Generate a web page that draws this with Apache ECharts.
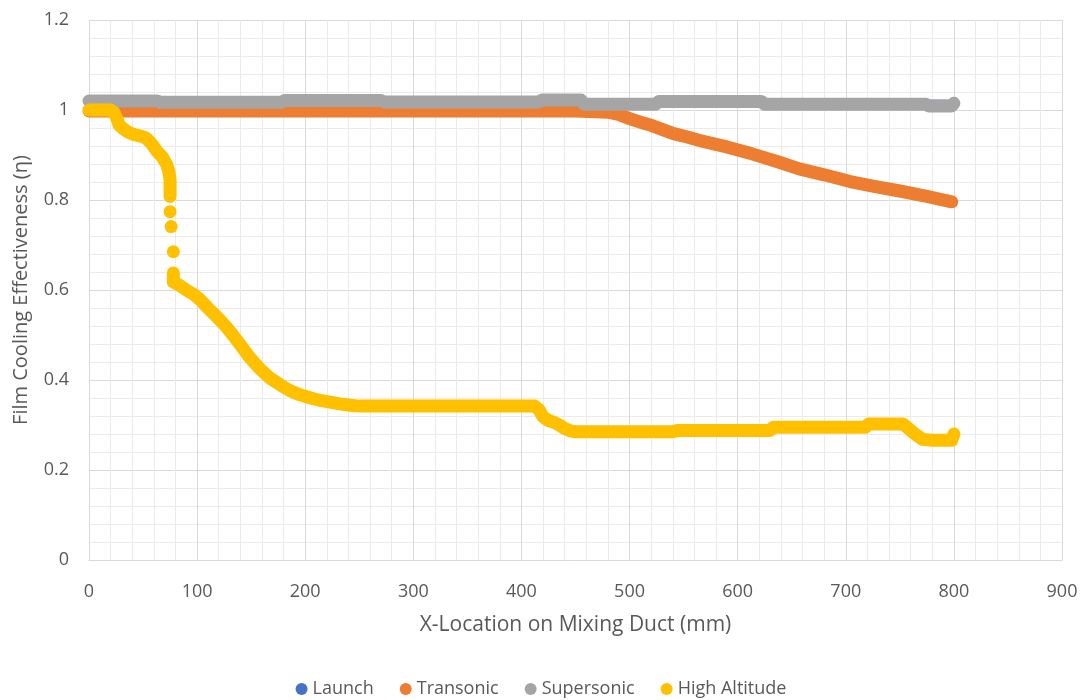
<!DOCTYPE html>
<html>
<head>
<meta charset="utf-8">
<script src="https://cdn.jsdelivr.net/npm/echarts@6/dist/echarts.min.js"></script>
<style>
html,body{margin:0;padding:0;background:#fff;}
#chart{width:1082px;height:700px;}
</style>
</head>
<body>
<div id="chart"></div>
<script>
// ---- data ----
const seriesNames = ['Launch', 'Transonic', 'Supersonic', 'High Altitude'];
const seriesColors = ['#4472C4', '#ED7D31', '#A5A5A5', '#FFC000'];

// Launch (hidden beneath Supersonic in the reference)
const launchData = [[0, 1.017], [270, 1.017], [460, 1.015], [620, 1.015], [800, 1.013]];

// Transonic
const transonicData = [
  [0, 0.998], [100, 0.998], [200, 0.998], [300, 0.998], [400, 0.998], [450, 0.998],
  [480, 0.995], [490, 0.99], [500, 0.981], [510, 0.973], [520, 0.966], [530, 0.957],
  [540, 0.948], [550, 0.942], [565, 0.932], [590, 0.918], [614, 0.902], [637, 0.885],
  [657, 0.869], [680, 0.856], [704, 0.841], [725, 0.831], [750, 0.820], [775, 0.808],
  [798, 0.796]
];

// Supersonic
const supersonicData = [
  [0, 1.020], [63, 1.020], [66, 1.017], [178, 1.017], [181, 1.021], [270, 1.021],
  [273, 1.018], [416, 1.018], [419, 1.022], [455, 1.022], [458, 1.013], [524, 1.013],
  [527, 1.019], [622, 1.019], [625, 1.013], [774, 1.013], [777, 1.009], [798, 1.009],
  [800, 1.015]
];

// High Altitude (continuous trace)
const highAltData = [
  [0, 1.0], [10, 1.0], [20, 1.0], [23, 0.995], [26, 0.98], [28, 0.966], [32, 0.958],
  [36, 0.951], [42, 0.945], [48, 0.942], [53, 0.937], [58, 0.925], [63, 0.908],
  [68, 0.895], [72, 0.878], [74, 0.862], [75, 0.844], [75, 0.825], [75, 0.808],
  '-',
  [78, 0.638], [78, 0.618], [84, 0.610], [90, 0.600], [97, 0.590], [103, 0.578],
  [110, 0.560], [118, 0.541], [127, 0.518], [134, 0.497], [140, 0.478], [148, 0.452],
  [158, 0.425], [167, 0.405], [177, 0.389], [186, 0.376], [195, 0.367], [205, 0.360],
  [215, 0.354], [223, 0.351], [232, 0.347], [241, 0.344], [250, 0.342], [300, 0.342],
  [350, 0.342], [412, 0.342], [416, 0.335], [420, 0.318], [425, 0.310], [430, 0.306],
  [435, 0.300], [440, 0.292], [445, 0.287], [450, 0.285], [500, 0.285], [540, 0.285],
  [545, 0.288], [600, 0.288], [630, 0.288], [633, 0.295], [700, 0.295], [718, 0.295],
  [721, 0.302], [753, 0.302], [758, 0.292], [764, 0.280], [771, 0.268], [780, 0.266],
  [798, 0.266], [800, 0.280]
];
// High Altitude isolated points in the steep drop
const highAltDots = [[75, 0.774], [76, 0.741], [78, 0.685]];

// axis settings
const xMin = 0, xMax = 900, xInterval = 100;
const yMin = 0, yMax = 1.2, yInterval = 0.2;
const xTitle = 'X-Location on Mixing Duct (mm)';
const yTitle = 'Film Cooling Effectiveness (η)';

// ---- chart ----
const FONT = '"Open Sans", "Noto Sans", sans-serif';
const TXT = '#595959';
const MARK = 13;

function lineSeries(name, data, color, width, z) {
  return {
    name: name, type: 'line', z: z,
    data: data.map(d => d === '-' ? ['-', '-'] : d),
    connectNulls: false,
    symbol: 'circle', symbolSize: MARK, showSymbol: false,
    itemStyle: { color: color },
    lineStyle: { color: color, width: width || MARK, cap: 'round', join: 'round' },
    emphasis: { disabled: true }, silent: true, animation: false
  };
}

const chart = echarts.init(document.getElementById('chart'), null, { renderer: 'canvas' });
chart.setOption({
  animation: false,
  backgroundColor: '#ffffff',
  grid: { left: 89, right: 20, top: 20, bottom: 140, containLabel: false },
  legend: {
    top: 675, left: 'center',
    icon: 'circle', itemWidth: 12, itemHeight: 12, itemGap: 26,
    data: seriesNames,
    textStyle: { fontFamily: FONT, fontSize: 18, color: TXT },
    selectedMode: false
  },
  xAxis: {
    type: 'value', min: xMin, max: xMax, interval: xInterval,
    name: xTitle, nameLocation: 'middle', nameGap: 55,
    nameTextStyle: { fontFamily: FONT, fontSize: 21, color: TXT },
    axisLine: { show: true, lineStyle: { color: '#d9d9d9', width: 1 } },
    axisTick: { show: false },
    axisLabel: { fontFamily: FONT, fontSize: 18, color: TXT, margin: 23 },
    splitLine: { show: true, lineStyle: { color: '#d9d9d9', width: 1 } },
    minorTick: { show: false, splitNumber: 5 },
    minorSplitLine: { show: true, lineStyle: { color: '#ebebeb', width: 1 } }
  },
  yAxis: {
    type: 'value', min: yMin, max: yMax, interval: yInterval,
    name: yTitle, nameLocation: 'middle', nameGap: 58,
    nameTextStyle: { fontFamily: FONT, fontSize: 20, color: TXT },
    axisLine: { show: false },
    axisTick: { show: false },
    axisLabel: { fontFamily: FONT, fontSize: 18, color: TXT, margin: 20 },
    splitLine: { show: true, lineStyle: { color: '#d9d9d9', width: 1 } },
    minorTick: { show: false, splitNumber: 5 },
    minorSplitLine: { show: true, lineStyle: { color: '#ebebeb', width: 1 } }
  },
  series: [
    lineSeries(seriesNames[0], launchData, seriesColors[0], 9, 2),
    lineSeries(seriesNames[1], transonicData, seriesColors[1], MARK, 3),
    lineSeries(seriesNames[2], supersonicData, seriesColors[2], MARK, 4),
    lineSeries(seriesNames[3], highAltData, seriesColors[3], MARK, 5),
    {
      name: seriesNames[3], type: 'scatter', data: highAltDots, z: 6,
      symbol: 'circle', symbolSize: MARK,
      itemStyle: { color: seriesColors[3], opacity: 1 },
      emphasis: { disabled: true }, silent: true, animation: false
    }
  ]
});
</script>
</body>
</html>
